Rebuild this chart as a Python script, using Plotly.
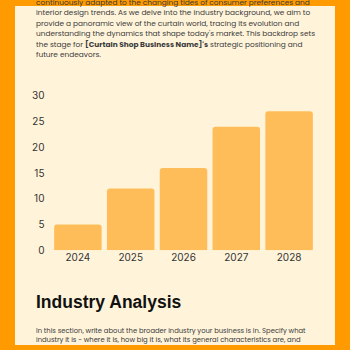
import plotly.graph_objects as go

years = ["2024", "2025", "2026", "2027", "2028"]
values = [5, 12, 16, 24, 27]
y_ticks = [0, 5, 10, 15, 20, 25, 30]

top_lines = [
    "continuously adapted to the changing tides of consumer preferences and",
    "interior design trends. As we delve into the industry background, we aim to",
    "provide a panoramic view of the curtain world, tracing its evolution and",
    "understanding the dynamics that shape today's market. This backdrop sets",
    "the stage for <b>[Curtain Shop Business Name]'s</b> strategic positioning and",
    "future endeavors.",
]
heading = "Industry Analysis"
bottom_lines = [
    "In this section, write about the broader industry your business is in. Specify what",
    "industry it is - where it is, how big it is, what its general characteristics are, and",
]

W = H = 350
ORANGE = "#FF9A00"
CREAM = "#FFF4DA"
BAR = "#FFBD5A"
TXT = "#2b2b2b"

fig = go.Figure(go.Bar(x=years, y=values, marker=dict(color=BAR, line=dict(width=0))))

fig.update_layout(
    width=W, height=H,
    margin=dict(l=0, r=0, t=0, b=0),
    paper_bgcolor=ORANGE,
    plot_bgcolor="rgba(0,0,0,0)",
    showlegend=False,
    bargap=0.1,
    barcornerradius=3,
    font=dict(family="Inter, Open Sans, sans-serif", color=TXT),
    xaxis=dict(domain=[51.5 / W, 315.5 / W], showgrid=False, zeroline=False, showline=False,
               ticks="", tickfont=dict(size=10, color="#333333")),
    yaxis=dict(domain=[1 - 252.3 / H, 1 - 92.7 / H], range=[0, 30], tickvals=y_ticks,
               showgrid=False, zeroline=False, showline=False, ticks="",
               tickfont=dict(size=10, color="#333333"), ticklabelstandoff=6),
)

fig.add_shape(type="rect", xref="paper", yref="paper", x0=15 / W, x1=335 / W, y0=0, y1=1,
              fillcolor=CREAM, line=dict(width=0), layer="below")

top_y = [-3.5, 7.2, 17.9, 28.6, 39.3, 50.0]
for txt, yy in zip(top_lines, top_y):
    fig.add_annotation(text=txt, xref="paper", yref="paper", x=35 / W, y=1 - yy / H,
                       xanchor="left", yanchor="middle", showarrow=False, borderpad=0,
                       font=dict(size=7.4, color="#3a3a3a", family="Poppins, Inter, sans-serif"))

fig.add_annotation(text="<b>" + heading + "</b>", xref="paper", yref="paper", x=33.5 / W, y=1 - 305.5 / H,
                   xanchor="left", yanchor="middle", showarrow=False,
                   font=dict(size=17.5, color="#111111", family="Liberation Sans, Arial, sans-serif"))

fig.add_annotation(text="<br>".join(bottom_lines), xref="paper", yref="paper", x=35 / W, y=1 - 339.8 / H,
                   xanchor="left", yanchor="middle", align="left", showarrow=False, borderpad=0,
                   font=dict(size=6.8, color="#3a3a3a", family="Poppins, Inter, sans-serif"))

fig.write_html("out.html")
